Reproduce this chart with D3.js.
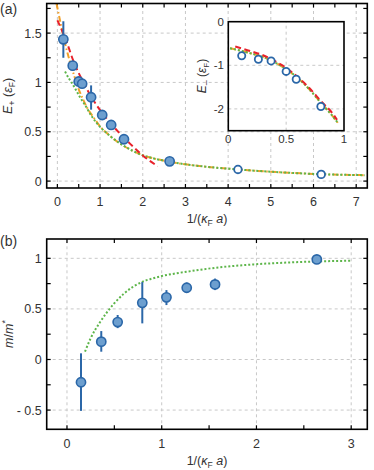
<!DOCTYPE html>
<html><head><meta charset="utf-8">
<script src="https://cdn.jsdelivr.net/npm/d3@7"></script>
<style>
html,body{margin:0;padding:0;background:#fff;}
svg{display:block;font-family:"Liberation Sans",Arial,Helvetica,sans-serif;}
</style></head><body>
<svg id="c" width="374" height="470"></svg>
<script>
// ---------- Panel (a) data ----------
const aPtsX   = [0.14, 0.36, 0.50, 0.58, 0.79, 1.05, 1.26, 1.56, 2.63];
const aPtsY   = [1.437, 1.17, 1.01, 0.987, 0.85, 0.67, 0.569, 0.424, 0.20];
const aErrLo  = [1.25, 1.12, 0.98, 0.96, 0.724, 0.65, 0.55, 0.41, 0.19];
const aErrHi  = [1.62, 1.22, 1.04, 1.01, 0.97, 0.69, 0.59, 0.44, 0.21];
const aOpenX  = [4.23, 6.18];
const aOpenY  = [0.118, 0.068];
const greenAX = [0.18,0.27,0.375,0.53,0.65,0.8,1.0,1.2,1.47,1.75,2.01,2.3,2.64,3.0,3.5,4.23,5.0,6.18,7.2];
const greenAY = [1.11,1.04,0.97,0.85,0.77,0.66,0.55,0.47,0.38,0.31,0.26,0.225,0.195,0.17,0.145,0.118,0.095,0.07,0.06];
const orangeAX = [-0.02,0.1,0.2,0.3,0.4,0.5,0.6,0.7,0.85,1.0,1.2,1.47,1.75,2.01,2.3,2.64,3.0,3.5,4.23,5.0,6.18,7.2];
const orangeAY = [1.80,1.55,1.36,1.2,1.06,0.93,0.83,0.74,0.645,0.555,0.47,0.38,0.31,0.26,0.225,0.195,0.17,0.145,0.118,0.095,0.07,0.06];
const redAX   = [0.0,0.2,0.4,0.6,0.8,1.0,1.3,1.7,2.0,2.35];
const redAY   = [1.63,1.43,1.19,1.01,0.85,0.72,0.56,0.38,0.26,0.15];
const aXTicks = [0,1,2,3,4,5,6,7];
const aYTicks = [0,0.5,1,1.5];
const aYTickLabels = ["0","0.5","1","1.5"];

// ---------- Inset data ----------
const inPtsX = [0.116, 0.26, 0.37, 0.50, 0.587, 0.80];
const inPtsY = [-0.78, -0.86, -0.90, -1.14, -1.32, -1.945];
const greenInX = [0.015,0.1,0.2,0.3,0.4,0.5,0.6,0.7,0.8,0.9,0.95];
const greenInY = [-0.61,-0.66,-0.73,-0.81,-0.93,-1.09,-1.29,-1.55,-1.86,-2.16,-2.33];
const redInX = [0.06,0.2,0.3,0.4,0.5,0.6,0.7,0.8,0.9,0.94];
const redInY = [-0.57,-0.68,-0.77,-0.9,-1.06,-1.27,-1.52,-1.82,-2.1,-2.25];
const inXTicks = [0,0.5,1];
const inXTickLabels = ["0","0.5","1"];
const inYTicks = [0,-1,-2];
const inYTickLabels = ["0","-1","-2"];

// ---------- Panel (b) data ----------
const bPtsX  = [0.148, 0.362, 0.535, 0.795, 1.05, 1.264, 1.563, 2.637];
const bPtsY  = [-0.225, 0.176, 0.37, 0.56, 0.614, 0.709, 0.742, 0.989];
const bErrLo = [-0.508, 0.077, 0.31, 0.357, 0.538, 0.66, 0.686, 0.97];
const bErrHi = [0.061, 0.281, 0.44, 0.765, 0.686, 0.76, 0.80, 1.01];
const greenBX = [0.19,0.25,0.35,0.49,0.6,0.7,0.8,0.9,1.0,1.13,1.26,1.45,1.62,1.97,2.32,2.67,3.01];
const greenBY = [0.077,0.21,0.37,0.545,0.65,0.72,0.77,0.80,0.825,0.848,0.867,0.893,0.912,0.94,0.958,0.97,0.976];
const bXTicks = [0,1,2,3];
const bYTicks = [-0.5,0,0.5,1];
const bYTickLabels = ["- 0.5","0","0.5","1"];

// ---------- styles ----------
const C_RED = "#e8222b", C_ORANGE = "#f2a12a", C_GREEN = "#5db54a";
const C_BLUE = "#2b67a8", C_FILL = "#6d9fcf", C_GRID = "#c8c8c8", C_TXT = "#333";

const svg = d3.select("#c");
const defs = svg.append("defs");

function zip(xs, ys){ return xs.map((x,i)=>[x, ys[i]]); }

function panel(id, x, y, xMinor, yMinor, xTicks, yTicks, yLabs, opts){
  const g = svg.append("g");
  const [x0,x1] = x.range(), [y0,y1] = y.range();
  defs.append("clipPath").attr("id", id).append("rect")
    .attr("x", x0).attr("y", y1).attr("width", x1-x0).attr("height", y0-y1);
  g.selectAll(".gx").data(xTicks).join("line")
    .attr("x1", d=>x(d)).attr("x2", d=>x(d)).attr("y1", y0).attr("y2", y1)
    .attr("stroke", C_GRID).attr("stroke-width", 1).attr("stroke-dasharray", "3,3");
  g.selectAll(".gy").data(yTicks).join("line")
    .attr("y1", d=>y(d)).attr("y2", d=>y(d)).attr("x1", x0).attr("x2", x1)
    .attr("stroke", C_GRID).attr("stroke-width", 1).attr("stroke-dasharray", "3,3");
  const tl = 4;
  g.selectAll(".tb").data(xMinor).join("line")
    .attr("x1", d=>x(d)).attr("x2", d=>x(d)).attr("y1", y0).attr("y2", y0-tl)
    .attr("stroke", "#000").attr("stroke-width", 1.2);
  g.selectAll(".tt").data(xMinor).join("line")
    .attr("x1", d=>x(d)).attr("x2", d=>x(d)).attr("y1", y1).attr("y2", y1+tl)
    .attr("stroke", "#000").attr("stroke-width", 1.2);
  g.selectAll(".tlft").data(yMinor).join("line")
    .attr("y1", d=>y(d)).attr("y2", d=>y(d)).attr("x1", x0).attr("x2", x0+tl)
    .attr("stroke", "#000").attr("stroke-width", 1.2);
  g.selectAll(".trt").data(yMinor).join("line")
    .attr("y1", d=>y(d)).attr("y2", d=>y(d)).attr("x1", x1).attr("x2", x1-tl)
    .attr("stroke", "#000").attr("stroke-width", 1.2);
  g.selectAll(".lx").data(xTicks).join("text")
    .attr("x", d=>x(d)).attr("y", y0 + opts.xLabDy).attr("text-anchor","middle")
    .attr("font-size", 12.5).attr("fill", C_TXT).text(d=>d3.format("")(d));
  g.selectAll(".ly").data(yTicks).join("text")
    .attr("x", x0 - 5).attr("y", d=>y(d)).attr("dy","0.36em").attr("text-anchor","end")
    .attr("font-size", 12.5).attr("fill", C_TXT).text((d,i)=>yLabs[i]);
  return g;
}

function frame(x, y, w){
  const [x0,x1] = x.range(), [y0,y1] = y.range();
  svg.append("rect").attr("x", x0).attr("y", y1).attr("width", x1-x0).attr("height", y0-y1)
    .attr("fill","none").attr("stroke","#000").attr("stroke-width", w);
}

function curve(g, x, y, xs, ys, color, dash, clip){
  const line = d3.line().x(d=>x(d[0])).y(d=>y(d[1])).curve(d3.curveMonotoneX);
  g.append("path").datum(zip(xs, ys)).attr("d", line)
    .attr("fill","none").attr("stroke", color).attr("stroke-width", 2)
    .attr("stroke-dasharray", dash).attr("clip-path", clip ? `url(#${clip})` : null);
}

// ===== Panel (a) =====
const xA = d3.scaleLinear().domain([-0.25, 7.26]).range([46.7, 367.3]);
const yA = d3.scaleLinear().domain([-0.07, 1.80]).range([188, 3.5]);
const gA = panel("clipA", xA, yA, d3.range(0, 7.01, 0.5), d3.range(0, 1.76, 0.25),
  aXTicks, aYTicks, aYTickLabels, {xLabDy: 18});
curve(gA, xA, yA, orangeAX, orangeAY, C_ORANGE, "6,2.5,1.5,2.5", "clipA");
curve(gA, xA, yA, greenAX, greenAY, C_GREEN, "2,2", "clipA");
curve(gA, xA, yA, redAX, redAY, C_RED, "6,3.5", "clipA");
gA.selectAll(".ea").data(aPtsX).join("line")
  .attr("x1", d=>xA(d)).attr("x2", d=>xA(d))
  .attr("y1", (d,i)=>yA(aErrLo[i])).attr("y2", (d,i)=>yA(aErrHi[i]))
  .attr("stroke", C_BLUE).attr("stroke-width", 2);
gA.selectAll(".pa").data(aPtsX).join("circle")
  .attr("cx", d=>xA(d)).attr("cy", (d,i)=>yA(aPtsY[i])).attr("r", 4.6)
  .attr("fill", C_FILL).attr("stroke", C_BLUE).attr("stroke-width", 1.6);
gA.selectAll(".oa").data(aOpenX).join("circle")
  .attr("cx", d=>xA(d)).attr("cy", (d,i)=>yA(aOpenY[i])).attr("r", 3.8)
  .attr("fill", "#fff").attr("stroke", C_BLUE).attr("stroke-width", 1.8);
frame(xA, yA, 1.6);

// ===== Inset =====
const xI = d3.scaleLinear().domain([0, 1]).range([228.3, 344]);
const yI = d3.scaleLinear().domain([-2.5, 0]).range([130.7, 21.7]);
const gI = svg.append("g");
defs.append("clipPath").attr("id","clipI").append("rect")
  .attr("x", 228.3).attr("y", 21.7).attr("width", 344-228.3).attr("height", 130.7-21.7);
gI.append("rect").attr("x", 228.3).attr("y", 21.7).attr("width", 344-228.3).attr("height", 130.7-21.7)
  .attr("fill", "#fff");
gI.selectAll(".gx").data([0.5]).join("line")
  .attr("x1", d=>xI(d)).attr("x2", d=>xI(d)).attr("y1", 130.7).attr("y2", 21.7)
  .attr("stroke", C_GRID).attr("stroke-dasharray","3,3");
gI.selectAll(".gy").data([-1,-2]).join("line")
  .attr("y1", d=>yI(d)).attr("y2", d=>yI(d)).attr("x1", 228.3).attr("x2", 344)
  .attr("stroke", C_GRID).attr("stroke-dasharray","3,3");
curve(gI, xI, yI, greenInX, greenInY, C_ORANGE, "6,2.5,1.5,2.5", "clipI");
curve(gI, xI, yI, greenInX, greenInY, C_GREEN, "2,2", "clipI");
curve(gI, xI, yI, redInX, redInY, C_RED, "6,3.5", "clipI");
gI.selectAll(".oi").data(inPtsX).join("circle")
  .attr("cx", d=>xI(d)).attr("cy", (d,i)=>yI(inPtsY[i])).attr("r", 3.6)
  .attr("fill", "#fff").attr("stroke", C_BLUE).attr("stroke-width", 1.8);
gI.selectAll(".lx").data(inXTicks).join("text")
  .attr("x", d=>xI(d)).attr("y", 143).attr("text-anchor","middle")
  .attr("font-size", 11.5).attr("fill", C_TXT).text((d,i)=>inXTickLabels[i]);
gI.selectAll(".ly").data(inYTicks).join("text")
  .attr("x", 224).attr("y", d=>yI(d)).attr("dy","0.36em").attr("text-anchor","end")
  .attr("font-size", 11.5).attr("fill", C_TXT).text((d,i)=>inYTickLabels[i]);
frame(xI, yI, 1.6);
const il = svg.append("text").attr("transform", "translate(206,76) rotate(-90)")
  .attr("text-anchor","middle").attr("font-size", 12).attr("fill", C_TXT);
il.append("tspan").attr("font-style","italic").text("E");
il.append("tspan").attr("font-size", 9).attr("dy", 3).text("–");
il.append("tspan").attr("dy", -3).text(" (");
il.append("tspan").attr("font-style","italic").text("ε");
il.append("tspan").attr("font-size", 8).attr("dy", 3).text("F");
il.append("tspan").attr("dy", -3).text(")");

// ===== Panel (b) =====
const xB = d3.scaleLinear().domain([-0.214, 3.17]).range([46.7, 367.3]);
const yB = d3.scaleLinear().domain([-0.69, 1.191]).range([429.3, 239]);
const gB = panel("clipB", xB, yB, d3.range(0, 3.01, 0.5), d3.range(-0.5, 1.01, 0.25),
  bXTicks, bYTicks, bYTickLabels, {xLabDy: 18.5});
curve(gB, xB, yB, greenBX, greenBY, C_GREEN, "2,2", "clipB");
gB.selectAll(".eb").data(bPtsX).join("line")
  .attr("x1", d=>xB(d)).attr("x2", d=>xB(d))
  .attr("y1", (d,i)=>yB(bErrLo[i])).attr("y2", (d,i)=>yB(bErrHi[i]))
  .attr("stroke", C_BLUE).attr("stroke-width", 2);
gB.selectAll(".pb").data(bPtsX).join("circle")
  .attr("cx", d=>xB(d)).attr("cy", (d,i)=>yB(bPtsY[i])).attr("r", 4.6)
  .attr("fill", C_FILL).attr("stroke", C_BLUE).attr("stroke-width", 1.6);
frame(xB, yB, 1.6);

// ===== Labels =====
function xLabel(yPos){
  const t = svg.append("text").attr("x", 207).attr("y", yPos).attr("text-anchor","middle")
    .attr("font-size", 12.5).attr("fill", C_TXT);
  t.append("tspan").text("1/(");
  t.append("tspan").attr("font-style","italic").text("κ");
  t.append("tspan").attr("font-size", 8.5).attr("dy", 3).text("F");
  t.append("tspan").attr("dy", -3).text(" ");
  t.append("tspan").attr("font-style","italic").text("a");
  t.append("tspan").text(")");
}
xLabel(223);
xLabel(465);

const ya = svg.append("text").attr("transform", "translate(12,96) rotate(-90)")
  .attr("text-anchor","middle").attr("font-size", 12.5).attr("fill", C_TXT);
ya.append("tspan").attr("font-style","italic").text("E");
ya.append("tspan").attr("font-size", 9).attr("dy", 3).text("+");
ya.append("tspan").attr("dy", -3).text(" (");
ya.append("tspan").attr("font-style","italic").text("ε");
ya.append("tspan").attr("font-size", 8.5).attr("dy", 3).text("F");
ya.append("tspan").attr("dy", -3).text(")");

const yb = svg.append("text").attr("transform", "translate(13,334) rotate(-90)")
  .attr("text-anchor","middle").attr("font-size", 12.5).attr("fill", C_TXT);
yb.append("tspan").attr("font-style","italic").text("m");
yb.append("tspan").text("/");
yb.append("tspan").attr("font-style","italic").text("m");
yb.append("tspan").attr("font-size", 9).attr("dy", -5).text("*");

svg.append("text").attr("x", 0).attr("y", 14).attr("font-size", 14).attr("fill", C_TXT).text("(a)");
svg.append("text").attr("x", 0).attr("y", 246).attr("font-size", 14).attr("fill", C_TXT).text("(b)");
</script>
</body></html>
